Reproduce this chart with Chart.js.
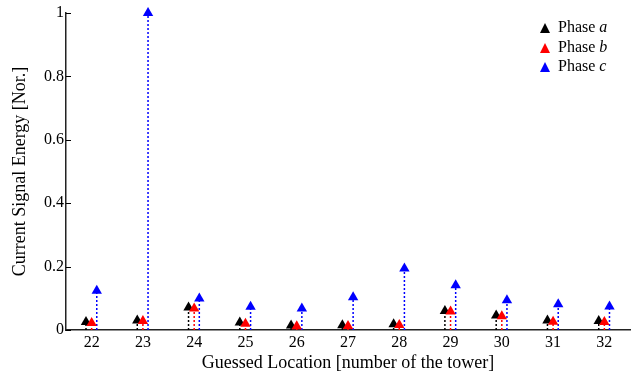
<!DOCTYPE html>
<html>
<head>
<meta charset="utf-8">
<script src="https://cdn.jsdelivr.net/npm/chart.js@4/dist/chart.umd.min.js"></script>
<style>
html,body{margin:0;padding:0;background:#fff;}
#wrap{position:relative;width:641px;height:374px;}
#legend{position:absolute;left:540px;top:17px;font-family:"Liberation Serif","Times New Roman",serif;font-size:16px;color:#000;}
#legend .row{height:19.5px;line-height:19.5px;white-space:nowrap;}
#legend .tri{display:inline-block;width:0;height:0;border-left:5.5px solid transparent;border-right:5.5px solid transparent;border-bottom:10px solid #000;margin-right:8px;vertical-align:-1px;}
</style>
</head>
<body>
<div id="wrap">
<canvas id="c" width="641" height="374"></canvas>
<div id="legend"></div>
</div>
<script>
const towers = [22, 23, 24, 25, 26, 27, 28, 29, 30, 31, 32];
const phaseA = [0.025, 0.030, 0.071, 0.024, 0.014, 0.015, 0.018, 0.060, 0.046, 0.030, 0.028];
const phaseB = [0.022, 0.028, 0.068, 0.020, 0.012, 0.013, 0.016, 0.058, 0.043, 0.026, 0.025];
const phaseC = [0.124, 1.000, 0.099, 0.073, 0.068, 0.103, 0.194, 0.141, 0.094, 0.081, 0.074];
const yTicks = [0, 0.2, 0.4, 0.6, 0.8, 1];
const seriesNames = ['Phase a', 'Phase b', 'Phase c'];
const seriesLetters = ['a', 'b', 'c'];
const colors = ['#000000', '#ff0000', '#0000ff'];
const offsets = [-0.11, 0, 0.1];

const allSeries = [phaseA, phaseB, phaseC];
const datasets = [];
allSeries.forEach((vals, i) => {
  const stem = [];
  vals.forEach((v, k) => {
    const x = towers[k] + offsets[i];
    stem.push({x: x, y: 0}, {x: x, y: v}, {x: x, y: null});
  });
  datasets.push({
    type: 'line', label: 'stem' + i, data: stem, borderColor: colors[i],
    borderWidth: 1.5, borderDash: [2, 2], pointRadius: 0, spanGaps: false,
    fill: false, order: 10 + i, tension: 0, clip: false
  });
});
allSeries.forEach((vals, i) => {
  datasets.push({
    type: 'scatter', label: seriesNames[i],
    data: vals.map((v, k) => ({x: towers[k] + offsets[i], y: v})),
    pointStyle: 'triangle', pointRadius: 6, pointHoverRadius: 6,
    backgroundColor: colors[i], borderColor: colors[i], borderWidth: 0,
    order: 3 - i, clip: false
  });
});

const innerTicks = {
  id: 'innerTicks',
  afterDatasetsDraw(chart) {
    const ctx = chart.ctx, y = chart.scales.y, x = chart.scales.x;
    ctx.save();
    ctx.strokeStyle = '#000';
    ctx.lineWidth = 1;
    y.ticks.forEach(t => {
      const py = Math.round(y.getPixelForValue(t.value)) + 0.5;
      ctx.beginPath();
      ctx.moveTo(x.left, py);
      ctx.lineTo(x.left + 5, py);
      ctx.stroke();
    });
    ctx.restore();
  }
};

const font = {family: '"Liberation Serif", "Times New Roman", serif', size: 16};
const titleFont = {family: '"Liberation Serif", "Times New Roman", serif', size: 18};
new Chart(document.getElementById('c'), {
  data: {datasets: datasets},
  options: {
    responsive: false, animation: false,
    layout: {padding: {top: 13, right: 11, left: 0, bottom: 0}},
    plugins: {legend: {display: false}, tooltip: {enabled: false}},
    scales: {
      x: {
        type: 'linear', min: 21.5, max: 32.5,
        afterBuildTicks: s => { s.ticks = towers.map(v => ({value: v})); },
        afterFit: s => { s.height = 44; },
        grid: {display: true, drawOnChartArea: false, drawTicks: false, color: '#000'},
        border: {display: true, color: '#222', width: 1.5},
        ticks: {color: '#000', font: font, padding: 3, maxRotation: 0},
        title: {display: true, text: 'Guessed Location [number of the tower]', color: '#000', font: titleFont, padding: {top: 0, bottom: 0}}
      },
      y: {
        min: 0, max: 1,
        afterBuildTicks: s => { s.ticks = yTicks.map(v => ({value: v})); },
        afterFit: s => { s.width = 66; },
        grid: {display: false, drawTicks: false},
        border: {display: true, color: '#222', width: 1.5},
        ticks: {color: '#000', font: font, padding: 2, callback: v => String(v)},
        title: {display: true, text: 'Current Signal Energy [Nor.]', color: '#000', font: titleFont, padding: {top: 9, bottom: 0}}
      }
    }
  },
  plugins: [innerTicks]
});

const lg = document.getElementById('legend');
seriesNames.forEach((n, i) => {
  const row = document.createElement('div');
  row.className = 'row';
  const tri = document.createElement('span');
  tri.className = 'tri';
  tri.style.borderBottomColor = colors[i];
  row.appendChild(tri);
  row.appendChild(document.createTextNode('Phase '));
  const it = document.createElement('i');
  it.textContent = seriesLetters[i];
  row.appendChild(it);
  lg.appendChild(row);
});
</script>
</body>
</html>
